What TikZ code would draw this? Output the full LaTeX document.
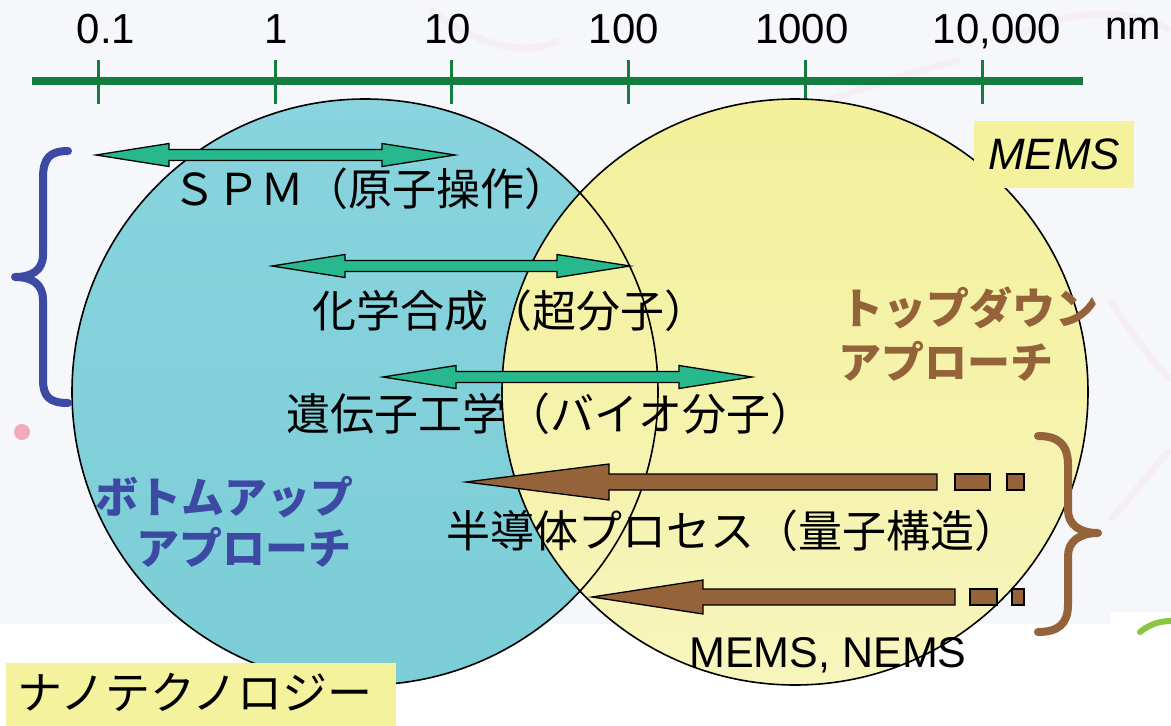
\documentclass[tikz,border=0pt]{standalone}
\usepackage{fontspec}
\setmainfont{Liberation Sans}
\newfontfamily\cjk{Noto Sans CJK JP}
\definecolor{bgc}{HTML}{F6F7FB}
\definecolor{scaleg}{HTML}{137D3F}
\definecolor{bluetop}{HTML}{89D4DE}
\definecolor{bluebot}{HTML}{7BCDD6}
\definecolor{yeltop}{HTML}{F3F09A}
\definecolor{yelbot}{HTML}{F7F5BC}
\definecolor{garrow}{HTML}{27B88D}
\definecolor{brownc}{HTML}{94633A}
\definecolor{bluet}{HTML}{3D4AA3}
\definecolor{boxy}{HTML}{F5F29E}
\definecolor{pinkdot}{HTML}{F4A9BB}
\definecolor{swirl}{HTML}{F2C9D3}
\definecolor{leafg}{HTML}{8CC63F}
\newcommand\dblarrow[4]{% style, x1, x2, y
  \filldraw[#1] (#2,#4) -- (#2+73,#4-11.5) -- (#2+73,#4-5.5) -- (#3-73,#4-5.5) -- (#3-73,#4-11.5) -- (#3,#4)
    -- (#3-73,#4+11.5) -- (#3-73,#4+5.5) -- (#2+73,#4+5.5) -- (#2+73,#4+11.5) -- cycle;}
\newcommand\leftblock[6]{% tip x, y, head base x, head half, shaft end x, style
  \filldraw[#6] (#1,#2) -- (#3,#2-#4) -- (#3,#2-8) -- (#5,#2-8) -- (#5,#2+8) -- (#3,#2+8) -- (#3,#2+#4) -- cycle;}
\newcommand\dashblock[4]{% x1, x2, y, style
  \filldraw[#4] (#1,#3-8) rectangle (#2,#3+8);}
\begin{document}
\begin{tikzpicture}[x=1pt,y=-1pt,
  jp/.style={font=\cjk\fontsize{44pt}{50pt}\selectfont, inner sep=0pt},
  jpb/.style={font=\cjk\bfseries\fontsize{43pt}{50pt}\selectfont, inner sep=0pt},
  num/.style={font=\fontsize{42pt}{48pt}\selectfont, inner sep=0pt, anchor=base},
  lat/.style={font=\fontsize{43pt}{50pt}\selectfont, inner sep=0pt},
  greenarrow/.style={fill=garrow, draw=black, line width=1.3pt, line join=miter},
  brownarrow/.style={fill=brownc, draw=black, line width=1.3pt, line join=miter},
  tick/.style={draw=scaleg, line width=3pt},
  bracepath/.style={line width=8pt, line cap=round, line join=round},
  ring/.style={draw=black, line width=1.6pt}]
\useasboundingbox (0,0) rectangle (1171,726);
% background
\fill[bgc] (0,0) rectangle (1171,624);
\fill[white] (0,624) rectangle (1171,726);
\fill[white] (1110,612) rectangle (1171,624);
% faint swirls
\begin{scope}[swirl, line width=7pt, opacity=0.16]
\draw (430,10) .. controls (470,40) and (520,60) .. (560,40);
\draw (1010,40) .. controls (1060,10) and (1120,5) .. (1171,30);
\draw (830,100) .. controls (870,85) and (920,70) .. (960,60);
\draw (1110,300) .. controls (1130,330) and (1150,360) .. (1171,380);
\draw (1110,520) .. controls (1130,500) and (1150,470) .. (1171,450);
\end{scope}
\fill[pinkdot] (22,432) circle[radius=8];
\draw[leafg, line width=6pt, line cap=round] (1140,632) .. controls (1150,624) and (1160,621) .. (1171,621);
% scale
\draw[scaleg, line width=8pt] (32,81) coordinate (s0) -- (1083,81) coordinate (s1);
\foreach \x/\n in {98.7/a,275.5/b,451.6/c,628/d,805/e,982.6/f}
  \draw[tick] (\x,60) coordinate (t\n) -- (\x,104);
\node[num] (l1) at (106,43) {0.1};
\node[num] (l2) at (276,43) {1};
\node[num] (l3) at (448,43) {10};
\node[num] (l4) at (624,43) {100};
\node[num] (l5) at (802,43) {1000};
\node[num] (l6) at (997,43) {10,000};
\node[num, font=\fontsize{40pt}{44pt}\selectfont] (lnm) at (1133,39) {nm};
% circles
\shade[top color=bluetop, bottom color=bluebot] (365,392) circle[radius=293];
\shade[top color=yeltop, bottom color=yelbot] (795,392) circle[radius=293];
\draw[ring] (365,392) circle[radius=293];
\draw[ring] (795,392) circle[radius=293];
% green double arrows
\dblarrow{greenarrow}{96}{455}{155}
\dblarrow{greenarrow}{272}{630}{266}
\dblarrow{greenarrow}{383}{752}{377}
% brown arrows
\leftblock{466}{482}{609}{18}{937}{brownarrow}
\dashblock{955}{990}{482}{brownarrow}
\dashblock{1007}{1024}{482}{brownarrow}
\leftblock{592}{597}{703}{17}{955}{brownarrow}
\dashblock{970}{997}{597}{brownarrow}
\dashblock{1012}{1024}{597}{brownarrow}
% braces
\draw[bluet, bracepath] (68,151) .. controls (50,151) and (43,158) .. (43,178) -- (43,255)
  .. controls (43,270) and (32,277) .. (15,277) .. controls (32,277) and (43,284) .. (43,300)
  -- (43,380) .. controls (43,397) and (50,403) .. (68,403);
\draw[brownc, bracepath] (1038,436) .. controls (1058,436) and (1068,444) .. (1068,465) -- (1068,510)
  .. controls (1068,525) and (1080,533) .. (1098,533) .. controls (1080,533) and (1068,541) .. (1068,556)
  -- (1068,605) .. controls (1068,624) and (1058,632) .. (1038,632);
% labels
\node[jp] (spm) at (370,189) {ＳＰＭ（原子操作）};
\node[jp] (chem) at (510,311) {化学合成（超分子）};
\node[jp] (gene) at (550,414) {遺伝子工学（バイオ分子）};
\node[jp] (semi) at (732,531) {半導体プロセス（量子構造）};
\node[lat] (mn) at (828,655) {MEMS, NEMS};
\node[jpb, text=brownc, anchor=west] (td1) at (840,308) {トップダウン};
\node[jpb, text=brownc, anchor=west] (td2) at (838,361) {アプローチ};
\node[jpb, text=bluet, anchor=east] (bu1) at (354,497) {ボトムアップ};
\node[jpb, text=bluet, anchor=east] (bu2) at (352,547) {アプローチ};
% boxes
\node[fill=boxy, minimum width=160pt, minimum height=67pt, inner sep=0pt,
  font=\fontsize{44pt}{50pt}\selectfont\itshape] (mems) at (1054,154.5) {MEMS};
\fill[boxy] (6,663) rectangle (396,726);
\node[jp, font=\cjk\fontsize{45pt}{50pt}\selectfont] (nano) at (195,692) {ナノテクノロジー};
\end{tikzpicture}
\end{document}
